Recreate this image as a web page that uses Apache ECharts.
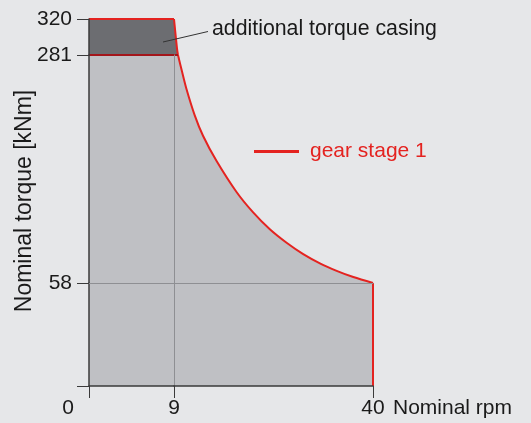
<!DOCTYPE html>
<html><head><meta charset="utf-8">
<script src="https://cdn.jsdelivr.net/npm/echarts@6/dist/echarts.min.js"></script>
<style>html,body{margin:0;padding:0;background:#e6e7e9}#c{width:531px;height:423px}</style>
</head><body><div id="c"></div>
<script>
// ---- data ----
const rpmSegments = [0, 9, 40];              // schematic x segments (rpm)
const torqueSegments = [0, 58, 281, 320];    // schematic y segments (kNm)
const rpmTickLabels = [0, 9, 40];
const torqueTickLabels = [58, 281, 320];
const baseTorque = 281;
const maxTorque = 320;
const curveRpm =    [9,   9.47, 9.62, 10.2, 10.93, 12.23, 13.52, 15.61, 18.74, 21.33, 23.93, 26.54, 29.13, 31.73, 34.34, 36.93, 40];
const curveTorque = [320, 288,  281,  266,  248,   222,   202,   177.5, 147,   127,   110.5, 97.3,  86.2,  77.2,  69.9,  63.8,  58];
const seriesName = 'gear stage 1';
const annotationText = 'additional torque casing';
const xName = 'Nominal rpm';
const yName = 'Nominal torque [kNm]';

// ---- style / layout ----
const RED = '#e42320', DARKRED = '#a3161b', LIGHT = '#bfc0c4', DARK = '#6c6d71';
const AXIS = '#3a3a3a', GRIDC = '#8e8f93', TXT = '#1a1a1a';
const FONT = '"Liberation Sans", Arial, sans-serif';
const colPx = [[89, 174], [174, 373]];          // left,right px of x segments
const rowPx = [[386, 283], [283, 55], [55, 19]]; // bottom,top px of y segments

const pts = curveRpm.map((r, i) => [r, curveTorque[i]]);
const upperCurve = pts.filter(p => p[1] >= baseTorque);
const lowerCurve = pts.filter(p => p[1] <= baseTorque);
const rpm0 = rpmSegments[0], rpmK = rpmSegments[1], rpmMax = rpmSegments[2];
const tEnd = curveTorque[curveTorque.length - 1];
const rpmAtBase = upperCurve[upperCurve.length - 1][0];

const grids = [], xAxes = [], yAxes = [], series = [];
const hidden = {show: false};
for (let r = 0; r < 3; r++) {
  for (let c = 0; c < 2; c++) {
    const g = grids.length;
    grids.push({left: colPx[c][0], width: colPx[c][1] - colPx[c][0],
                top: rowPx[r][1], height: rowPx[r][0] - rowPx[r][1], outerBoundsMode: 'none'});
    const xa = {type: 'value', gridIndex: g, min: rpmSegments[c], max: rpmSegments[c + 1], position: 'bottom',
                splitLine: hidden, axisLine: hidden, axisTick: hidden, axisLabel: hidden, z: 10};
    const ya = {type: 'value', gridIndex: g, min: torqueSegments[r], max: torqueSegments[r + 1], position: 'left',
                splitLine: hidden, axisLine: hidden, axisTick: hidden, axisLabel: hidden, z: 10};
    const tick = {show: true, length: 12, lineStyle: {color: AXIS, width: 1}};
    const lbl = {show: true, color: TXT, fontSize: 21, fontFamily: FONT};
    if (c === 0) {
      ya.axisLine = {show: true, onZero: false, lineStyle: {color: AXIS, width: 1.5}};
      const lv = torqueTickLabels.filter(v => v > torqueSegments[r] && v <= torqueSegments[r + 1]);
      ya.axisTick = Object.assign({customValues: r === 0 ? lv.concat([0]) : lv}, tick);
      if (lv.length) ya.axisLabel = Object.assign({customValues: lv, margin: 17}, lbl);
    } else if (r < 2) {
      ya.axisLine = {show: true, onZero: false, lineStyle: {color: GRIDC, width: 1}};
    }
    if (r === 0) {
      xa.axisLine = {show: true, onZero: false, lineStyle: {color: AXIS, width: 1.5}};
      if (c === 0) {
        xa.axisTick = Object.assign({customValues: [rpm0, rpmK]}, tick);
        xa.axisLabel = Object.assign({customValues: [rpmTickLabels[0]], margin: 12, align: 'right', padding: [0, 15, 0, 0]}, lbl);
      } else {
        xa.axisTick = Object.assign({customValues: [rpmMax]}, tick);
        xa.axisLabel = Object.assign({customValues: [rpmTickLabels[1], rpmTickLabels[2]], margin: 12}, lbl);
        xa.name = xName;
        xa.nameLocation = 'end';
        xa.nameGap = 20;
        xa.nameTextStyle = {color: TXT, fontSize: 21, fontFamily: FONT, verticalAlign: 'top', padding: [12, 0, 0, 0]};
      }
    } else if (r === 1) {
      xa.axisLine = {show: true, onZero: false, lineStyle: {color: GRIDC, width: 1}};
    }
    xAxes.push(xa); yAxes.push(ya);
  }
}
const SM = 0.3;
function fill(g, data, color, smooth) {
  series.push({type: 'line', xAxisIndex: g, yAxisIndex: g, data: data, symbol: 'none', clip: false,
    silent: true, smooth: smooth ? SM : false, lineStyle: {width: 0, opacity: 0},
    areaStyle: {color: color, opacity: 1, origin: 'start'}, z: 2});
}
function outline(g, data, color, smooth, name) {
  const s = {type: 'line', xAxisIndex: g, yAxisIndex: g, data: data, symbol: 'none', clip: false,
    silent: true, smooth: smooth ? SM : false, lineStyle: {color: color, width: 2}, itemStyle: {color: color}, z: 3};
  if (name) s.name = name;
  series.push(s);
}
// light area (below base torque / below curve)
fill(0, [[rpm0, tEnd], [rpmK, tEnd]], LIGHT);
fill(1, [[rpmK, tEnd], [rpmMax, tEnd]], LIGHT);
fill(2, [[rpm0, baseTorque], [rpmK, baseTorque]], LIGHT);
fill(3, [[rpmK, baseTorque]].concat(lowerCurve), LIGHT, true);
// dark area: additional torque casing
fill(4, [[rpm0, maxTorque], [rpmK, maxTorque]], DARK);
fill(5, upperCurve, DARK, true);
// red outline (gear stage 1)
outline(4, [[rpm0, maxTorque], [rpmK, maxTorque]], RED, false, seriesName);
outline(5, upperCurve, RED, true, seriesName);
outline(3, lowerCurve, RED, true, seriesName);
outline(1, [[rpmMax, tEnd], [rpmMax, torqueSegments[0]]], RED, false, seriesName);
// base torque line
outline(4, [[rpm0, baseTorque], [rpmK, baseTorque]], DARKRED, false);
outline(5, [[rpmK, baseTorque], [rpmAtBase, baseTorque]], DARKRED, false);

const chart = echarts.init(document.getElementById('c'), null, {renderer: 'canvas'});
chart.setOption({
  backgroundColor: '#e6e7e9',
  animation: false,
  grid: grids, xAxis: xAxes, yAxis: yAxes, series: series,
  legend: {
    left: 254, top: 141, padding: 0, itemWidth: 45, itemHeight: 3,
    data: [{name: seriesName, icon: 'rect', itemStyle: {color: RED}}],
    textStyle: {color: RED, fontSize: 21, fontFamily: FONT, padding: [0, 0, 0, 6]},
    selectedMode: false
  },
  graphic: [
    {type: 'text', x: 24.5, y: 201, rotation: Math.PI / 2,
     style: {text: yName, fill: TXT, fontSize: 23, fontFamily: FONT, align: 'center', verticalAlign: 'middle'}},
    {type: 'text', x: 212, y: 29,
     style: {text: annotationText, fill: TXT, fontSize: 21.3, fontFamily: FONT, align: 'left', verticalAlign: 'middle'}},
    {type: 'line', shape: {x1: 163, y1: 42, x2: 208, y2: 31.5}, style: {stroke: '#333', lineWidth: 1}, z: 20}
  ]
});
</script></body></html>
